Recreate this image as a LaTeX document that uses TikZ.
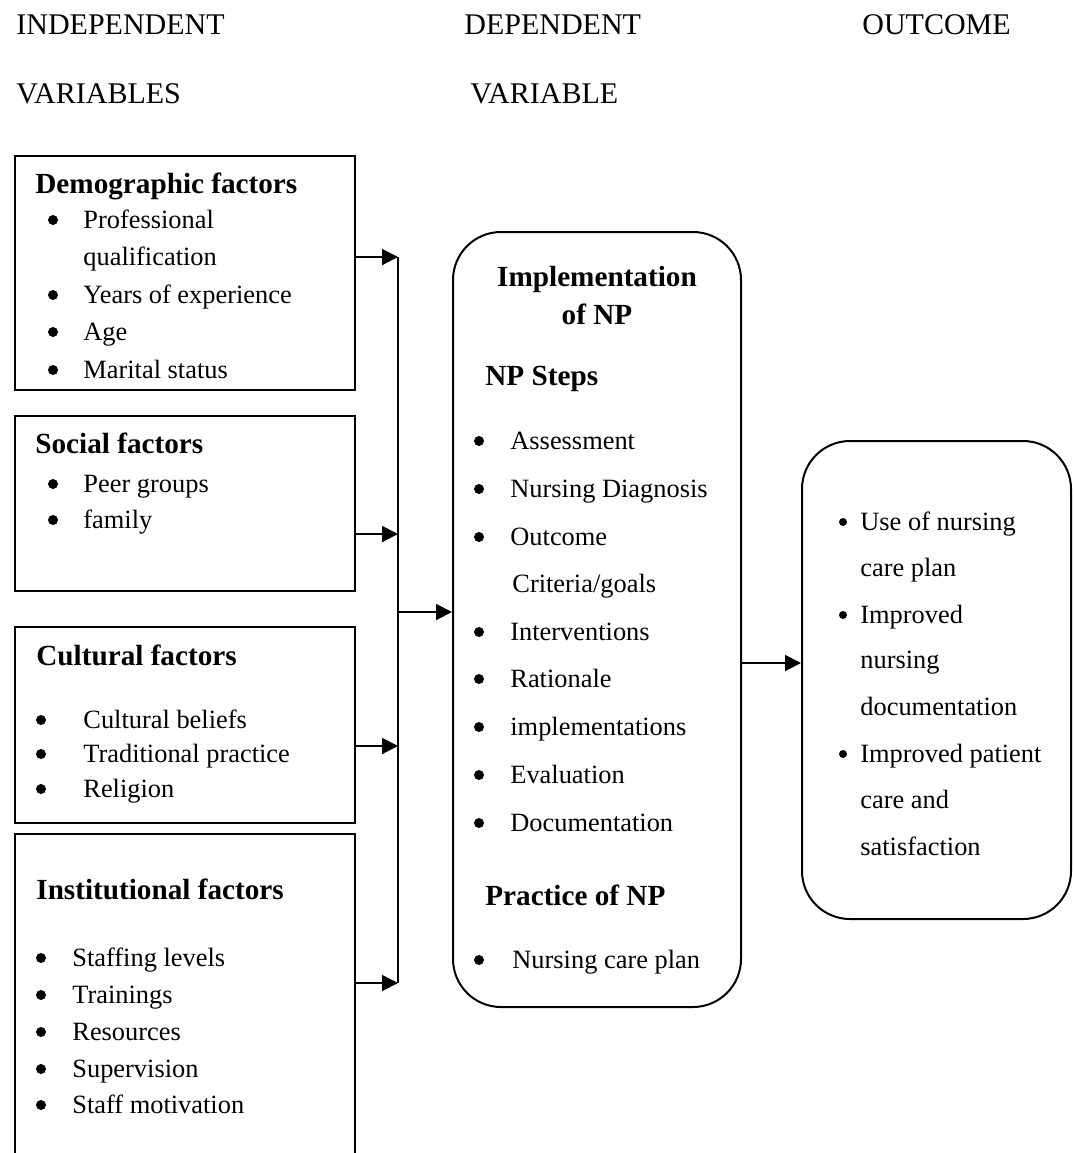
\documentclass[tikz,border=0pt]{standalone}
\usepackage{fontspec}
\setmainfont{Liberation Serif}
\usepackage{tikz}
\tikzset{>=latex}
\usetikzlibrary{arrows.meta}

\begin{document}
\begin{tikzpicture}[x=0.5pt, y=-0.5pt]
            \tikzset{factor/.style = {draw, line width=1pt, minimum width=170pt, inner sep=0pt}}
            \tikzset{roundbox/.style = {draw, line width=1pt, rounded corners=24pt, inner sep=0pt}}
            \tikzset{link/.style = {line width=1pt, -{Triangle[length=8pt, width=8pt]}}}
            \tikzset{head/.style = {anchor=base west, inner sep=0pt, font=\fontsize{15}{18}\selectfont}}
            \tikzset{title/.style = {anchor=base west, inner sep=0pt, font=\fontsize{14.6}{18}\selectfont\bfseries}}
            \tikzset{txt/.style = {anchor=base west, inner sep=0pt, font=\fontsize{13.2}{16}\selectfont}}
            \useasboundingbox (0,0) rectangle (1073,1153);
            \clip (0,0) rectangle (1073,1153);
            % column headings
            \node[head] (indep) at (16, 34) {INDEPENDENT};
            \node[head] (indepvar) at (16, 103) {VARIABLES};
            \node[head] (dep) at (464, 34) {DEPENDENT};
            \node[head] (depvar) at (470, 103) {VARIABLE};
            \node[head] (outc) at (862, 34) {OUTCOME};
            % independent variables
            \node[factor, minimum height=117pt] (demo) at (185, 273) {};
            \node[title] at (35, 193) {Demographic factors};
            \node[txt] at (83, 228) {Professional};
            \node[txt] at (83, 265) {qualification};
            \node[txt] at (83, 303) {Years of experience};
            \node[txt] at (83, 340) {Age};
            \node[txt] at (83, 378) {Marital status};
            \foreach \y in {228, 303, 340, 378}
                \fill (53, \y-8) circle [radius = 5];
            \node[factor, minimum height=87.5pt] (social) at (185, 503.5) {};
            \node[title] at (35, 453) {Social factors};
            \node[txt] at (83, 492) {Peer groups};
            \node[txt] at (83, 528) {family};
            \foreach \y in {492, 528}
                \fill (53, \y-8) circle [radius = 5];
            \node[factor, minimum height=98pt] (cultural) at (185, 725) {};
            \node[title] at (36, 665) {Cultural factors};
            \node[txt] at (83, 728) {Cultural beliefs};
            \node[txt] at (83, 762) {Traditional practice};
            \node[txt] at (83, 797) {Religion};
            \foreach \y in {728, 762, 797}
                \fill (41, \y-8) circle [radius = 5];
            \node[factor, minimum height=170pt] (inst) at (185, 1004) {};
            \node[title] at (36, 899) {Institutional factors};
            \node[txt] at (72, 966) {Staffing levels};
            \node[txt] at (72, 1003) {Trainings};
            \node[txt] at (72, 1040) {Resources};
            \node[txt] at (72, 1077) {Supervision};
            \node[txt] at (72, 1113) {Staff motivation};
            \foreach \y in {966, 1003, 1040, 1077, 1113}
                \fill (41, \y-8) circle [radius = 5];
            % dependent variable
            \node[roundbox, minimum width=144pt, minimum height=387.5pt] (impl) at (597, 619.5) {};
            \node[title, anchor=base] at (597, 286) {Implementation};
            \node[title, anchor=base] at (597, 324) {of NP};
            \node[title] at (485, 385) {NP Steps};
            \node[txt] at (510, 449) {Assessment};
            \node[txt] at (510, 497) {Nursing Diagnosis};
            \node[txt] at (510, 545) {Outcome};
            \node[txt] at (512, 592) {Criteria/goals};
            \node[txt] at (510, 640) {Interventions};
            \node[txt] at (510, 687) {Rationale};
            \node[txt] at (510, 735) {implementations};
            \node[txt] at (510, 783) {Evaluation};
            \node[txt] at (510, 831) {Documentation};
            \node[title] at (485, 905) {Practice of NP};
            \node[txt] at (512, 968) {Nursing care plan};
            \foreach \y in {449, 497, 545, 640, 687, 735, 783, 831, 968}
                \fill (479, \y-8) circle [radius = 5];
            % outcome
            \node[roundbox, minimum width=134.5pt, minimum height=239pt] (result) at (936.5, 680) {};
            \node[txt] at (860, 530) {Use of nursing};
            \node[txt] at (860, 576) {care plan};
            \node[txt] at (860, 623) {Improved};
            \node[txt] at (860, 668) {nursing};
            \node[txt] at (860, 715) {documentation};
            \node[txt] at (860, 762) {Improved patient};
            \node[txt] at (860, 808) {care and};
            \node[txt] at (860, 855) {satisfaction};
            \foreach \y in {530, 623, 762}
                \fill (843, \y-8) circle [radius = 4];
            % connectors
            \coordinate (busdemo) at (398, 257);
            \coordinate (bussocial) at (398, 534);
            \coordinate (busmid) at (398, 612);
            \coordinate (buscultural) at (398, 746);
            \coordinate (businst) at (398, 983);
            \draw[line width=1pt] (busdemo) -- (businst);
            \draw[link] (demo.east |- busdemo) -- (busdemo);
            \draw[link] (social.east |- bussocial) -- (bussocial);
            \draw[link] (cultural.east |- buscultural) -- (buscultural);
            \draw[link] (inst.east |- businst) -- (businst);
            \draw[link] (busmid) -- (impl.west |- busmid);
            \draw[link] (impl.east |- 0,663) -- (result.west |- 0,663);
        \end{tikzpicture}
\end{document}
